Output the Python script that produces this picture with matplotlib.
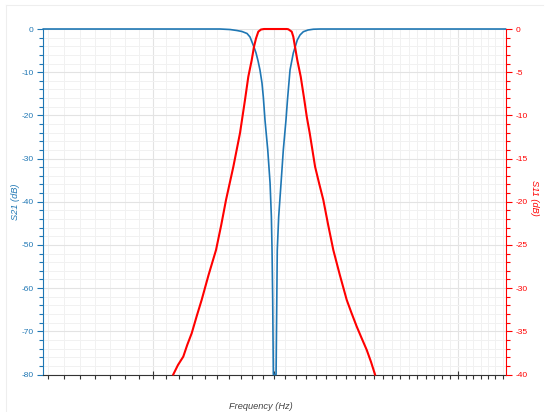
import numpy as np
import matplotlib
matplotlib.use("Agg")
import matplotlib.pyplot as plt
from matplotlib.lines import Line2D
from matplotlib.ticker import FixedLocator, MultipleLocator, NullFormatter

plt.rcParams["font.family"] = ["Liberation Sans", "DejaVu Sans"]
plt.rcParams["axes.unicode_minus"] = False

# S21 (transmission) trace, frequency in arbitrary units on log axis
freq_s21 = [3.273, 4.526, 4.610, 4.669, 4.712, 4.756, 4.782, 4.799, 4.817, 4.835,
            4.853, 4.870, 4.888, 4.900, 4.915, 4.940, 4.961, 4.973, 4.979, 4.985,
            4.991, 5.016, 5.027, 5.040, 5.062, 5.083, 5.108, 5.122, 5.146, 5.177,
            5.215, 5.241, 5.273, 5.319, 5.371, 5.437, 7.64]
s21_db = [0, 0, -0.12, -0.35, -0.58, -1.04, -1.85, -3.0, -4.17, -5.56,
          -7.41, -9.49, -12.5, -15.74, -21.06, -28.0, -35.65, -43.5, -51.2, -62.7,
          -80, -80, -51.2, -43.5, -35.65, -28.0, -21.06, -16.4, -9.49, -5.56,
          -2.55, -1.39, -0.63, -0.23, -0.05, 0, 0]

# S11 (reflection) trace
freq_s11 = [4.154, 4.190, 4.231, 4.262, 4.297, 4.337, 4.376, 4.432, 4.493, 4.536,
            4.576, 4.638, 4.695, 4.738, 4.767, 4.797, 4.817, 4.835, 4.855, 4.879,
            4.906, 5.115, 5.130, 5.162, 5.177, 5.193, 5.215, 5.248, 5.280, 5.307,
            5.335, 5.388, 5.427, 5.470, 5.519, 5.571, 5.638, 5.710, 5.760, 5.816,
            5.867, 5.923, 5.970, 6.014]
s11_db = [-40, -38.9, -37.93, -36.57, -35.22, -33.22, -31.37, -28.47, -25.58, -22.69,
          -19.79, -15.94, -12.04, -8.22, -5.52, -3.59, -2.05, -1.08, -0.31, -0.06,
          0, 0, -0.03, -0.31, -0.89, -2.05, -3.59, -5.52, -8.0, -10.2,
          -12.04, -15.94, -17.82, -19.79, -22.69, -25.58, -28.47, -31.37, -32.87, -34.46,
          -35.76, -37.15, -38.54, -40]

x_range = (3.273, 7.64)
x_major = [4, 5, 6, 7]
x_minor = [round(v, 1) for v in np.arange(3.3, 7.65, 0.1) if abs(v - round(v)) > 1e-6]

BLUE = "#1f77b4"
RED = "#ff0000"

fig = plt.figure(figsize=(5.5, 4.12), dpi=100)
ax = fig.add_axes([0.0787, 0.0910, 0.8404, 0.8386])
ax2 = ax.twinx()

# faint canvas outline
fig.add_artist(Line2D([6 / 550, 543 / 550], [1 - 5 / 412, 1 - 5 / 412], color="#eeeeee", lw=0.8))
fig.add_artist(Line2D([6 / 550, 6 / 550], [0, 1 - 5 / 412], color="#eeeeee", lw=0.8))

ax.set_xscale("log")
ax.set_xlim(*x_range)
ax.set_ylim(-80, 0)
ax2.set_ylim(-40, 0)

ax.xaxis.set_major_locator(FixedLocator(x_major))
ax.xaxis.set_minor_locator(FixedLocator(x_minor))
ax.xaxis.set_major_formatter(NullFormatter())
ax.xaxis.set_minor_formatter(NullFormatter())
ax.yaxis.set_major_locator(MultipleLocator(10))
ax.yaxis.set_minor_locator(MultipleLocator(2))
ax2.yaxis.set_major_locator(MultipleLocator(5))
ax2.yaxis.set_minor_locator(MultipleLocator(1))

# grid
ax.grid(which="major", color="#e3e3e3", lw=0.8)
ax.grid(which="minor", color="#f1f1f1", lw=0.7)
ax.set_axisbelow(True)

ax.plot(freq_s21, s21_db, color=BLUE, lw=1.2, clip_on=False, zorder=3)
ax2.plot(freq_s11, s11_db, color=RED, lw=1.5, clip_on=False, zorder=3)

# spines
for a in (ax, ax2):
    a.spines["top"].set_visible(False)
ax.spines["right"].set_visible(False)
ax.spines["left"].set_color(BLUE)
ax.spines["bottom"].set_color("#333333")
ax2.spines["left"].set_visible(False)
ax2.spines["bottom"].set_visible(False)
ax2.spines["right"].set_color(RED)

ax.tick_params(axis="x", which="major", direction="inout", length=6, width=0.8, color="#333333")
ax.tick_params(axis="x", which="minor", direction="out", length=3, width=0.8, color="#333333")
ax.tick_params(axis="y", which="major", direction="out", length=4.3, width=0.8,
               color=BLUE, labelcolor=BLUE, labelsize=6, pad=2.5)
ax.tick_params(axis="y", which="minor", direction="out", length=2.9, width=0.8, color=BLUE)
ax2.tick_params(axis="y", which="major", direction="out", length=4.3, width=0.8,
                color=RED, labelcolor=RED, labelsize=6, pad=3)
ax2.tick_params(axis="y", which="minor", direction="out", length=2.9, width=0.8, color=RED)

ax.set_xlabel("Frequency (Hz)", fontsize=6.7, style="italic", color="#444444")
ax.xaxis.set_label_coords(0.471, -0.0796)
ax.set_ylabel("S21 (dB)", fontsize=6.7, style="italic", color=BLUE, va="center")
ax.yaxis.set_label_coords(-0.060, 0.5)
ax2.set_ylabel("S11 (dB)", fontsize=6.7, style="italic", color=RED, rotation=270, va="center")
ax2.yaxis.set_label_coords(1.062, 0.512)

fig.savefig("out.png", dpi=100)
